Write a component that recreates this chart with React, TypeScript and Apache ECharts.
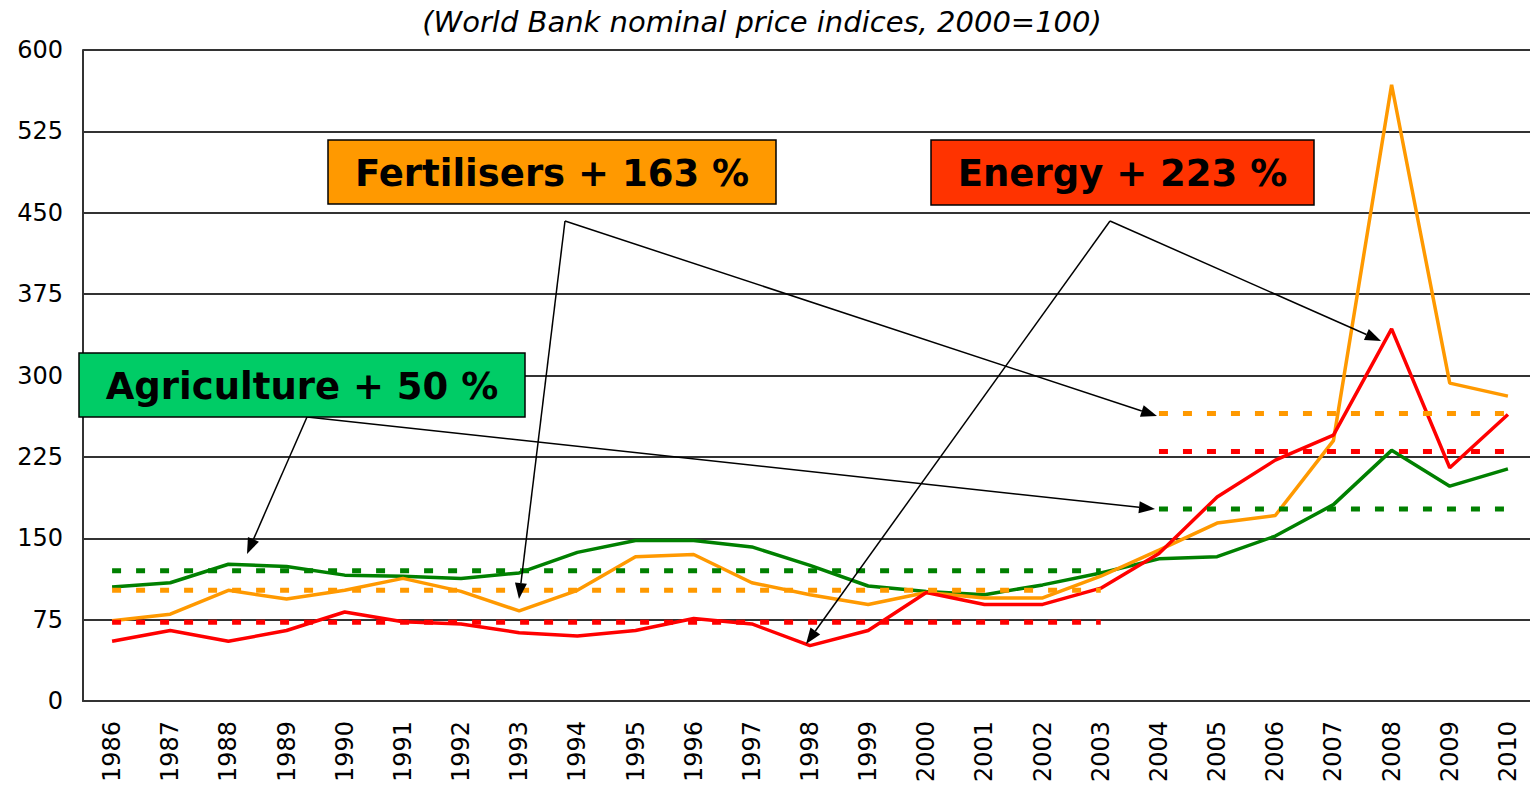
import React, { useEffect, useRef } from "react";
import * as echarts from "echarts";

const categories = [
  "1986", "1987", "1988", "1989", "1990", "1991", "1992", "1993", "1994", "1995",
  "1996", "1997", "1998", "1999", "2000", "2001", "2002", "2003", "2004", "2005",
  "2006", "2007", "2008", "2009", "2010",
];

const agriculture = [105, 109, 126, 124, 116, 115, 113, 118, 137, 148, 148, 142, 125, 106, 101, 98, 107, 118, 131, 133, 152, 181, 231, 198, 214];
const fertilisers = [74, 80, 102, 94, 102, 113, 101, 83, 102, 133, 135, 109, 98, 89, 100, 95, 95, 115, 139, 164, 171, 240, 568, 293, 281];
const energy = [55, 65, 55, 65, 82, 73, 71, 63, 60, 65, 76, 71, 51, 65, 100, 89, 89, 104, 136, 188, 222, 245, 343, 215, 264];

// period averages: 1986-2003 and 2004-2010
const lastEarlyIndex = 17;
const agricultureAverages = [120, 177];
const fertilisersAverages = [102, 265];
const energyAverages = [72.5, 230];

const yTicks = { min: 0, max: 600, interval: 75 };

const titleText = "(World Bank nominal price indices, 2000=100)";
const boxTexts = {
  fertilisers: "Fertilisers + 163 %",
  energy: "Energy + 223 %",
  agriculture: "Agriculture + 50 %",
};

const GREEN = "#008000";
const ORANGE = "#FF9900";
const RED = "#FF0000";

function periodData(avgs: number[], late: boolean) {
  return categories.map((_, i) => {
    if (!late) return i <= lastEarlyIndex ? avgs[0] : null;
    return i > lastEarlyIndex ? avgs[1] : null;
  });
}

function arrow(x1: number, y1: number, x2: number, y2: number): any[] {
  const len = 16;
  const half = 6;
  const dx = x2 - x1;
  const dy = y2 - y1;
  const d = Math.sqrt(dx * dx + dy * dy);
  const ux = dx / d;
  const uy = dy / d;
  const bx = x2 - ux * len;
  const by = y2 - uy * len;
  return [
    {
      type: "line",
      shape: { x1, y1, x2: bx, y2: by },
      style: { stroke: "#000", lineWidth: 1.5 },
      z: 100,
    },
    {
      type: "polygon",
      shape: {
        points: [
          [x2, y2],
          [bx - uy * half, by + ux * half],
          [bx + uy * half, by - ux * half],
        ],
      },
      style: { fill: "#000" },
      z: 100,
    },
  ];
}

function box(x: number, y: number, w: number, h: number, fill: string, text: string): any[] {
  return [
    {
      type: "rect",
      shape: { x, y, width: w, height: h },
      style: { fill, stroke: "#000", lineWidth: 1.5 },
      z: 110,
    },
    {
      type: "text",
      x: x + w / 2,
      y: y + h / 2 + 1,
      style: {
        text,
        fill: "#000",
        font: 'bold 37px "DejaVu Sans"',
        textAlign: "center",
        textVerticalAlign: "middle",
      },
      z: 111,
    },
  ];
}

export default function App() {
  const ref = useRef<HTMLDivElement>(null);

  useEffect(() => {
    if (!ref.current) return;
    const chart = echarts.init(ref.current, null, { renderer: "svg" });

    const solid = (name: string, data: number[], color: string, z: number) => ({
      name,
      type: "line",
      data,
      symbol: "none",
      lineStyle: { color, width: 3.5 },
      itemStyle: { color },
      z,
    });
    const dotted = (name: string, data: (number | null)[], color: string) => ({
      name,
      type: "line",
      data,
      symbol: "none",
      connectNulls: false,
      lineStyle: { color, width: 5, type: [9, 15], cap: "butt" },
      itemStyle: { color },
      z: 5,
    });

    const graphics: any[] = [
      {
        type: "text",
        x: 762,
        y: 22,
        style: {
          text: titleText,
          fill: "#000",
          font: 'italic 29px "DejaVu Sans"',
          textAlign: "center",
          textVerticalAlign: "middle",
        },
      },
      // Fertilisers arrows
      ...arrow(565, 221, 1157, 416),
      ...arrow(565, 221, 519, 599),
      // Energy arrows
      ...arrow(1110, 221, 1381, 341),
      ...arrow(1110, 221, 806, 644),
      // Agriculture arrows
      ...arrow(307, 417, 247, 554),
      ...arrow(307, 417, 1155, 509),
      ...box(328, 140, 448, 64, "#FF9900", boxTexts.fertilisers),
      ...box(931, 140, 383, 65, "#FF3300", boxTexts.energy),
      ...box(79, 353, 446, 64, "#00CC66", boxTexts.agriculture),
    ];

    chart.setOption({
      animation: false,
      backgroundColor: "#fff",
      grid: { left: 83, top: 50, width: 1454, height: 651, containLabel: false },
      xAxis: {
        type: "category",
        data: categories,
        boundaryGap: true,
        axisLine: { show: true, lineStyle: { color: "#333", width: 2 } },
        axisTick: { show: false },
        axisLabel: {
          rotate: 90,
          margin: 20,
          color: "#000",
          fontSize: 24,
          fontFamily: "DejaVu Sans",
          interval: 0,
        },
        splitLine: { show: false },
      },
      yAxis: {
        type: "value",
        min: yTicks.min,
        max: yTicks.max,
        interval: yTicks.interval,
        axisLine: { show: true, lineStyle: { color: "#333", width: 2 } },
        axisTick: { show: false },
        axisLabel: { margin: 20, color: "#000", fontSize: 24, fontFamily: "DejaVu Sans" },
        splitLine: { show: true, lineStyle: { color: "#333", width: 2 } },
      },
      series: [
        solid("Agriculture", agriculture, GREEN, 2),
        solid("Fertilisers", fertilisers, ORANGE, 3),
        solid("Energy", energy, RED, 4),
        dotted("Agriculture avg 1986-2003", periodData(agricultureAverages, false), GREEN),
        dotted("Fertilisers avg 1986-2003", periodData(fertilisersAverages, false), ORANGE),
        dotted("Energy avg 1986-2003", periodData(energyAverages, false), RED),
        dotted("Agriculture avg 2004-2010", periodData(agricultureAverages, true), GREEN),
        dotted("Fertilisers avg 2004-2010", periodData(fertilisersAverages, true), ORANGE),
        dotted("Energy avg 2004-2010", periodData(energyAverages, true), RED),
      ],
      graphic: graphics,
    });

    return () => chart.dispose();
  }, []);

  return (
    <div
      style={{
        position: "fixed",
        left: 0,
        top: 0,
        width: 1530,
        height: 787,
        overflow: "hidden",
        background: "#fff",
      }}
    >
      <div ref={ref} style={{ width: 1537, height: 787 }} />
    </div>
  );
}
